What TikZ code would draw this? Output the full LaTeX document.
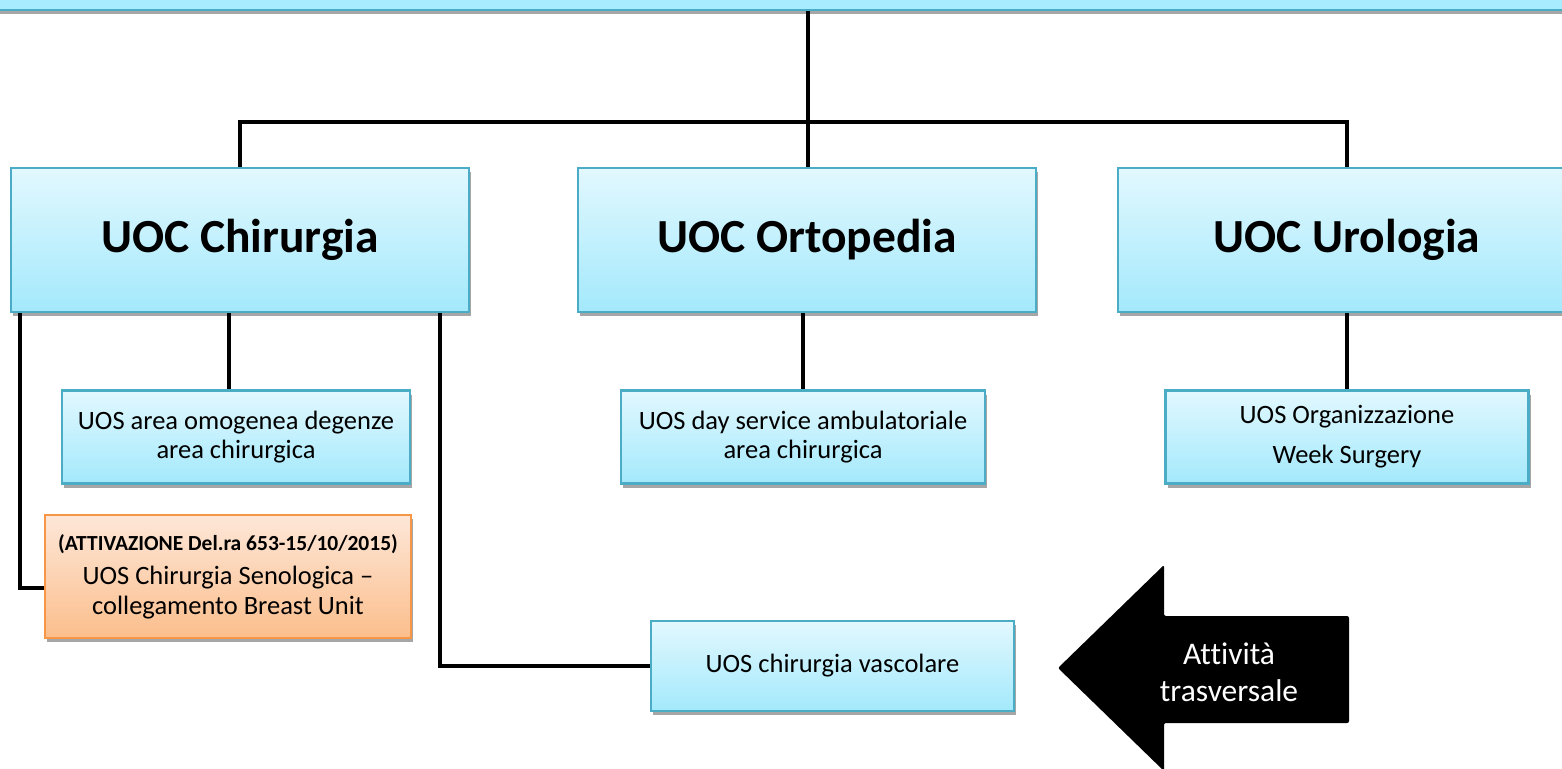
\documentclass[tikz,border=0pt]{standalone}
\usepackage{fontspec}
\setmainfont[Ligatures=NoCommon]{Carlito}
\usetikzlibrary{shadows}
\definecolor{bfill1}{HTML}{E2F8FE}
\definecolor{bfill2}{HTML}{A3E9FC}
\definecolor{bline}{HTML}{4BACC6}
\definecolor{ofill1}{HTML}{FDE7D8}
\definecolor{ofill2}{HTML}{FBBE8C}
\definecolor{oline}{HTML}{F79646}
\definecolor{topfill}{HTML}{A8ECFF}
\tikzset{
  shade/.style={drop shadow={shadow xshift=2pt,shadow yshift=-4pt,opacity=0.35,fill=black}},
  bluebox/.style={draw=bline,line width=2.2pt,top color=bfill1,bottom color=bfill2,shade,align=center,inner sep=0pt},
  orangebox/.style={draw=oline,line width=2.2pt,top color=ofill1,bottom color=ofill2,shade,align=center,inner sep=0pt},
  uoc/.style={bluebox,minimum width=458pt,minimum height=144pt,font=\fontsize{47.5}{56}\selectfont\bfseries},
  uos/.style={bluebox,minimum width=364pt,minimum height=93pt,font=\fontsize{26.5}{29}\selectfont},
  conn/.style={line width=3.5pt,black},
}
\begin{document}
\begin{tikzpicture}[x=1pt,y=-1pt]
\useasboundingbox (0,0) rectangle (1562,768);
% top bar
\node[draw=bline,line width=2.2pt,fill=topfill,shade,minimum width=1600pt,minimum height=80pt,inner sep=0pt] (top) at (781,-30) {};
% level 1
\node[uoc] (chir) at (240,240) {UOC Chirurgia};
\node[uoc] (ort) at (807,240) {UOC Ortopedia};
\node[uoc] (uro) at (1347,240) {UOC Urologia};
% level 2
\node[uos,minimum width=348pt] (area) at (236,437) {UOS area omogenea degenze\\area chirurgica};
\node[uos] (day) at (803,437) {UOS day service ambulatoriale\\area chirurgica};
\node[uos,minimum width=363pt] (org) at (1347,437) {UOS Organizzazione\\[11pt]Week Surgery};
\node[orangebox,minimum width=366pt,minimum height=123pt,font=\fontsize{26.5}{30}\selectfont] (seno) at (228,576.5)
  {{\fontsize{21.5}{25}\selectfont\bfseries (ATTIVAZIONE Del.ra 653-15/10/2015)}\\[4pt]UOS Chirurgia Senologica --\\collegamento Breast Unit};
\node[uos,minimum width=363pt,minimum height=90pt] (vasc) at (832.5,666) {UOS chirurgia vascolare};
% connectors
\coordinate (bus) at (808,122);
\coordinate (xa) at (229,0);
\coordinate (xl) at (20,588);
\coordinate (xr) at (440,0);
\draw[conn] (top.south -| bus) -- (ort.north -| bus);
\draw[conn] (chir.north) |- (bus) -| (uro.north);
\draw[conn] (chir.south -| xa) -- (area.north -| xa);
\draw[conn] (ort.south -| day) -- (day.north);
\draw[conn] (uro.south) -- (org.north);
\draw[conn] (chir.south -| xl) |- (seno.west |- xl);
\draw[conn] (chir.south -| xr) |- (vasc.west);
% arrow
\fill[black,rounded corners=2pt] (1058,668) -- (1164,565) -- (1164,616) -- (1349,616) -- (1349,723) -- (1164,723) -- (1164,771) -- cycle;
\node[text=white,align=center,font=\fontsize{31.5}{37}\selectfont] (arrowtext) at (1229,672) {Attività\\trasversale};
\end{tikzpicture}
\end{document}
